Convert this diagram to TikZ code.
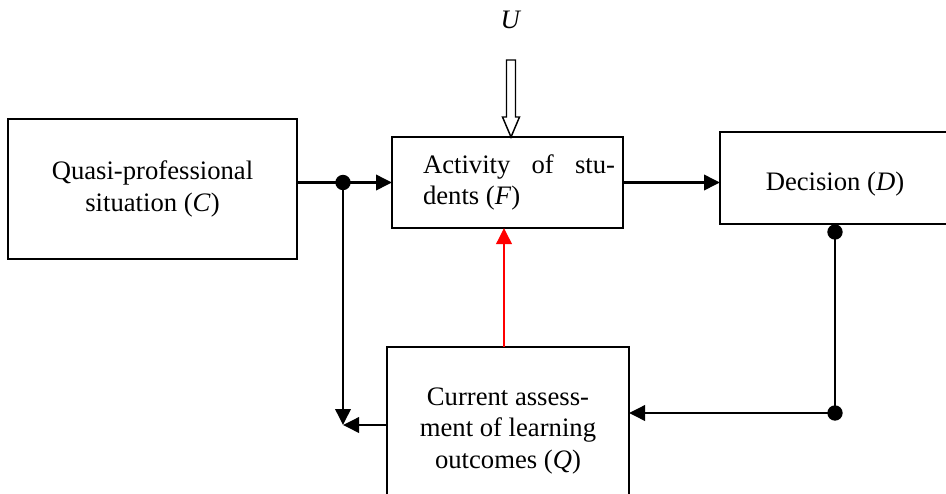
\documentclass[tikz,border=0pt]{standalone}
\usepackage{fontspec}
\setmainfont{Liberation Serif}
\usetikzlibrary{arrows.meta}

\begin{document}
\begin{tikzpicture}[x=0.75pt,y=0.75pt,yscale=-1,xscale=1,
  box/.style={draw, line width=1.6pt, rectangle, inner sep=0pt, outer sep=0pt,
    font=\fontsize{20}{23.6}\selectfont},
  conn/.style={line width=1.9pt, -{Triangle[length=12pt,width=11.5pt]}},
  wire/.style={line width=1.9pt},
  dot/.style={circle, fill=black, inner sep=0pt, minimum size=11.5pt}]
%set diagram to 946 x 493
\clip (0,0) rectangle (946,493);

%Shape: Rectangle (C)
\node [box, minimum width=216.75pt, minimum height=105pt, align=center] (C) at (152.5,189)
  {Quasi-professional\\situation (\textit{C})};
%Shape: Rectangle (F)
\node [box, minimum width=173.25pt, minimum height=68.25pt] (F) at (507.5,182.5)
  {\hspace*{17.25pt}\parbox{144pt}{\fontsize{20}{23.6}\selectfont Activity of stu-\linebreak dents (\textit{F})}};
%Shape: Rectangle (D)
\node [box, minimum width=172.5pt, minimum height=69pt] (D) at (835,178)
  {\raisebox{-4.5pt}[\height][\depth]{Decision (\textit{D})}};
%Shape: Rectangle (Q)
\node [box, minimum width=181.5pt, minimum height=126pt, align=center] (Q) at (508,431)
  {Current assess-\\ment of learning\\outcomes (\textit{Q})};

% Text Node
\node [font=\fontsize{20}{24}\selectfont] (U) at (511,20) {\textit{U}};

%Hollow arrow U -> F
\coordinate (Utip) at (511,137);
\draw [line width=1.1pt, fill=white] (Utip) -- ++(-8.5,-20) -- ++(4,0) -- ++(0,-57) -- ++(9,0) -- ++(0,57) -- ++(4,0) -- cycle;

%Branch points
\node [dot] (j1) at (343,182.5) {};
\node [dot] (j2) at (835,232) {};
\node [dot] (j3) at (835,413) {};
\coordinate (m) at (343,425);

%Straight Lines
\draw [conn] (F.west -| C.east) -- (F.west);
\draw [conn] (F.east) -- (F.east -| D.west);
\draw [conn] (j1.center) -- (m);
\draw [conn] (Q.west |- m) -- (m);
\draw [wire] (j2.center) -- (j3.center);
\draw [conn] (j3.center) -- (j3 -| Q.east);
\draw [conn, color={rgb, 255:red, 255; green, 0; blue, 0 }] ([xshift=-3pt]Q.north) -- ([xshift=-3pt]Q.north |- F.south);

\end{tikzpicture}
\end{document}
